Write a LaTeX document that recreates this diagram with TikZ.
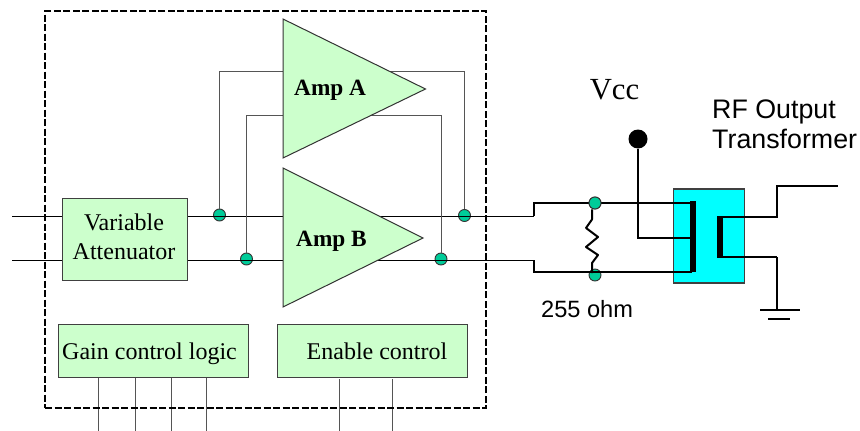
\documentclass[tikz,border=0pt]{standalone}
\usepackage{fontspec}
\setmainfont{Liberation Serif}
\newfontfamily\arialf{Liberation Sans}
\definecolor{boxgreen}{HTML}{CCFFCC}
\definecolor{dotgreen}{HTML}{00CC99}
\definecolor{xfcyan}{HTML}{00FFFF}
\definecolor{wiregray}{HTML}{555555}
\tikzset{
  wire/.style={draw=black,line width=1pt},
  outwire/.style={draw=black,line width=1.4pt},
  fbwire/.style={draw=wiregray,line width=1pt},
  heavy/.style={draw=black,line width=2pt},
  bar/.style={draw=black,line width=5.5pt},
  plainbox/.style={draw=black!75,line width=1pt,fill=boxgreen,inner sep=0pt},
  block/.style={plainbox,font=\fontsize{24}{27}\selectfont,align=center},
  blocktext/.style={font=\fontsize{24}{27}\selectfont,inner sep=0pt},
  amp/.style={draw=black!80,line width=1pt,fill=boxgreen,line join=miter},
  ampl/.style={font=\bfseries\fontsize{23.3}{26}\selectfont,inner sep=0pt},
  junction/.style={circle,draw=black!80,line width=0.9pt,fill=dotgreen,minimum size=12pt,inner sep=0pt},
  sanslabel/.style={font=\arialf\fontsize{26.8}{30}\selectfont,inner sep=0pt,align=left}
}
\begin{document}
\begin{tikzpicture}[x=1pt,y=-1pt]
\useasboundingbox (0,0) rectangle (860,431);
% coordinates
\coordinate (inT) at (12,216);
\coordinate (inB) at (12,260);
\coordinate (aa1) at (283,19); \coordinate (aa2) at (283,158); \coordinate (aa3) at (425.5,89);
\coordinate (ab1) at (283,168); \coordinate (ab2) at (283,307); \coordinate (ab3) at (423,238);
\coordinate (fbTa) at (219.5,71); \coordinate (fbTb) at (464.5,71);
\coordinate (fbBa) at (246.5,115); \coordinate (fbBb) at (441,115);
\coordinate (stepTa) at (534,216); \coordinate (stepTb) at (534,203);
\coordinate (stepBa) at (534,260); \coordinate (stepBb) at (534,272);
\coordinate (priT) at (692,203); \coordinate (priB) at (692,272);
\coordinate (priM) at (692,238); \coordinate (vccC) at (638,238);
\coordinate (secT) at (720,217); \coordinate (secB) at (720,257);
\coordinate (outA) at (777,217); \coordinate (outB) at (777,186); \coordinate (outC) at (838,186);
\coordinate (gndA) at (777,257); \coordinate (gndB) at (777,310);
\coordinate (g1a) at (760,310); \coordinate (g1b) at (800,310);
\coordinate (g2a) at (768,319); \coordinate (g2b) at (790,319);
\foreach \n/\x in {c1/98,c2/135.5,c3/171,c4/206,c5/339,c6/392}{\coordinate (\n) at (\x,431);}
\coordinate (c1t) at (98,377); \coordinate (c2t) at (135.5,377); \coordinate (c3t) at (171,377); \coordinate (c4t) at (206,377);
\coordinate (c5t) at (339,379); \coordinate (c6t) at (392,379);
% transformer body
\node[draw=black!75,line width=1.2pt,fill=xfcyan,minimum width=71pt,minimum height=94pt,inner sep=0pt] (xfmr) at (708.7,236) {};
% junctions
\node[junction] (jTa) at (219.5,215) {};
\node[junction] (jBa) at (246.5,259) {};
\node[junction] (jTb) at (464.5,215.5) {};
\node[junction] (jBb) at (441,259) {};
\node[junction] (jRt) at (595,203) {};
\node[junction] (jRb) at (595,275) {};
\node[circle,fill=black,minimum size=19pt,inner sep=0pt] (vcc) at (638,139) {};
% wires
\draw[wire] (inT) -- (stepTa);
\draw[wire] (inB) -- (stepBa);
\draw[outwire] (stepTa) -- (stepTb) -- (jRt) -- (priT);
\draw[outwire] (stepBa) -- (stepBb) -- (priB);
\draw[fbwire] (jTa.north) -- (fbTa) -- (fbTb) -- (jTb.north);
\draw[fbwire] (jBa.north) -- (fbBa) -- (fbBb) -- (jBb.north);
\draw[outwire] (vcc) -- (vccC) -- (priM);
\draw[outwire] (secT) -- (outA) -- (outB) -- (outC);
\draw[outwire] (secB) -- (gndA);
\draw[heavy] (gndA) -- (gndB);
\draw[heavy] (g1a) -- (g1b);
\draw[heavy] (g2a) -- (g2b);
\draw[bar] (priT) ++(1,-2) -- ++(0,71);
\draw[bar] (secT) ++(0,-1) -- ++(0,42);
\draw[heavy,line join=round] (jRt.south) ++(-3,0) -- ++(0,10) -- (586,228) -- (598,237) -- (586,247) -- (598,255) -- (592,263) -- (592,273);
\node[junction] (jRt2) at (jRt) {};
% control lines
\foreach \a/\b in {c1t/c1,c2t/c2,c3t/c3,c4t/c4,c5t/c5,c6t/c6}{\draw[fbwire] (\a) -- (\b);}
% amplifiers
\draw[amp] (aa1) -- (aa2) -- (aa3) -- cycle;
\draw[amp] (ab1) -- (ab2) -- (ab3) -- cycle;
\node[ampl,anchor=base west] (lA) at (294,95) {Amp A};
\node[ampl,anchor=base west] (lB) at (296,246) {Amp B};
% blocks
\node[plainbox,minimum width=125pt,minimum height=82pt] (atten) at (124.5,239) {};
\node[blocktext,align=center] (attenl) at (124,237) {Variable\\[2pt]Attenuator};
\node[plainbox,minimum width=190pt,minimum height=53pt] (gain) at (153,350.5) {};
\node[blocktext] (gainl) at (149.5,354) {Gain control logic};
\node[plainbox,minimum width=190pt,minimum height=53pt] (en) at (372,350.5) {};
\node[blocktext] (enl) at (377,351) {Enable control};
% dashed outline
\node[draw=black,line width=2pt,dash pattern=on 7pt off 2.5pt,minimum width=441pt,minimum height=397pt,inner sep=0pt] (chip) at (265.5,209.5) {};
% labels
\node[font=\fontsize{30.7}{33}\selectfont,inner sep=0pt] (vccl) at (614.5,90) {Vcc};
\node[sanslabel,anchor=west] (rf) at (712,124) {RF Output\\Transformer};
\node[font=\arialf\fontsize{23.6}{26}\selectfont,inner sep=0pt,anchor=west] (ohm) at (541,309) {255 ohm};
\end{tikzpicture}
\end{document}
